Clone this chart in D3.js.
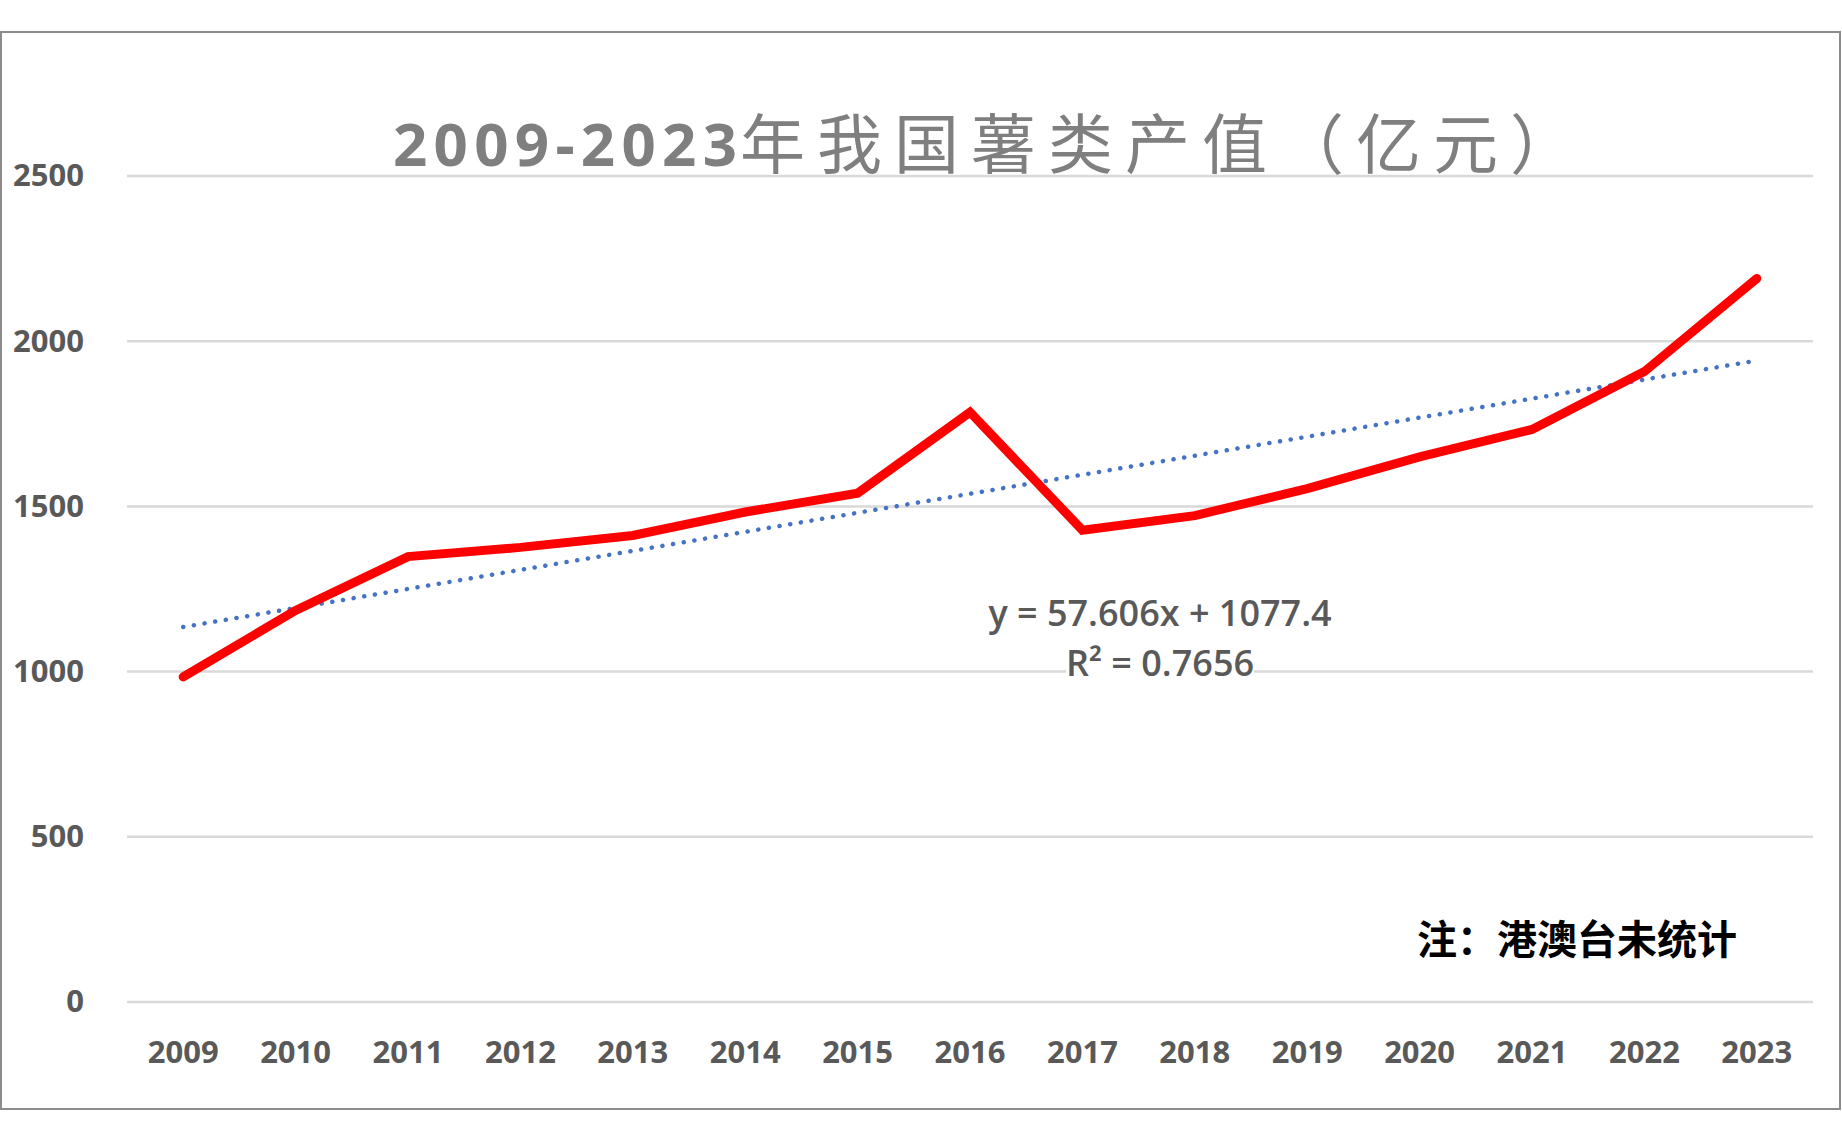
<!DOCTYPE html>
<html lang="zh">
<head>
<meta charset="UTF-8">
<title>2009-2023年我国薯类产值</title>
<script src="https://cdn.jsdelivr.net/npm/d3@7"></script>
<style>
  html, body { margin: 0; padding: 0; background: #fff; }
  svg { display: block; }
</style>
</head>
<body>
<script>
'use strict';

// 数据
var years = ['2009', '2010', '2011', '2012', '2013', '2014', '2015', '2016',
             '2017', '2018', '2019', '2020', '2021', '2022', '2023'];
var values = [984, 1185, 1348, 1376, 1412, 1483, 1540, 1785,
              1428, 1472, 1554, 1650, 1733, 1908, 2190];
var yTicks = [0, 500, 1000, 1500, 2000, 2500];
var trendSlope = 57.606,
    trendIntercept = 1077.4,
    trendR2 = 0.7656;

var w = 1842, h = 1141;
var padL = 127, padR = 1813, padT = 176, padB = 1002;
var numFont = '"Noto Sans", "DejaVu Sans", sans-serif';
var cjkFont = '"Noto Sans CJK SC", sans-serif';

var svg = d3.select('body').append('svg')
    .attr('width', w)
    .attr('height', h);

// 外框
svg.append('rect')
    .attr('x', 1).attr('y', 32)
    .attr('width', 1839).attr('height', 1077)
    .attr('fill', '#fff')
    .attr('stroke', '#8c8c8c')
    .attr('stroke-width', 2);

var xsc = d3.scaleBand()
    .domain(years)
    .range([padL, padR]);

var ysc = d3.scaleLinear()
    .domain([0, 2500])
    .range([padB, padT]);

var xmid = function(d) { return xsc(d) + xsc.bandwidth() / 2; };

// 网格线
svg.append('g')
    .selectAll('line')
    .data(yTicks)
    .enter()
    .append('line')
    .attr('x1', padL).attr('x2', padR)
    .attr('y1', d => ysc(d)).attr('y2', d => ysc(d))
    .attr('stroke', '#d9d9d9')
    .attr('stroke-width', 2.5);

// y 轴
var yAxis = svg.append('g')
    .attr('transform', 'translate(' + padL + ',0)')
    .call(d3.axisLeft(ysc).tickValues(yTicks).tickFormat(d3.format('d'))
        .tickSize(0).tickPadding(43));
yAxis.select('.domain').remove();
yAxis.selectAll('text')
    .style('font-family', numFont)
    .style('font-size', '31px')
    .style('font-weight', 'bold')
    .attr('fill', '#595959');

// x 轴
var xAxis = svg.append('g')
    .attr('transform', 'translate(0,' + padB + ')')
    .call(d3.axisBottom(xsc).tickSize(0).tickPadding(39));
xAxis.select('.domain').remove();
xAxis.selectAll('text')
    .style('font-family', numFont)
    .style('font-size', '31px')
    .style('font-weight', 'bold')
    .attr('fill', '#595959');

// 趋势线
var trend = years.map((d, i) => ({ year: d, v: trendIntercept + trendSlope * (i + 1) }));
svg.append('path')
    .datum([trend[0], trend[trend.length - 1]])
    .attr('fill', 'none')
    .attr('stroke', '#4472c4')
    .attr('stroke-width', 4.5)
    .attr('stroke-linecap', 'round')
    .attr('stroke-dasharray', '0.1 10.7')
    .attr('d', d3.line().x(d => xmid(d.year)).y(d => ysc(d.v)));

// 数据折线
svg.append('path')
    .datum(years.map((d, i) => ({ year: d, v: values[i] })))
    .attr('fill', 'none')
    .attr('stroke', '#ff0000')
    .attr('stroke-width', 9)
    .attr('stroke-linecap', 'round')
    .attr('stroke-linejoin', 'miter')
    .attr('d', d3.line().x(d => xmid(d.year)).y(d => ysc(d.v)));

// 公式标签
var eq = svg.append('g');
var r2 = eq.append('text')
    .attr('x', 1160).attr('y', 676)
    .attr('text-anchor', 'middle')
    .style('font-family', '"Open Sans", "Noto Sans", sans-serif')
    .style('font-size', '36px')
    .style('font-weight', 600)
    .attr('fill', '#595959')
    .text('R² = ' + trendR2);
var bb = r2.node().getBBox();
eq.insert('rect', 'text')
    .attr('x', bb.x).attr('y', bb.y + 6)
    .attr('width', bb.width).attr('height', bb.height - 10)
    .attr('fill', '#fff');
eq.append('text')
    .attr('x', 1160).attr('y', 626)
    .attr('text-anchor', 'middle')
    .style('font-family', '"Open Sans", "Noto Sans", sans-serif')
    .style('font-size', '36px')
    .style('font-weight', 600)
    .attr('fill', '#595959')
    .text('y = ' + trendSlope + 'x + ' + trendIntercept);

// 标题
svg.append('text')
    .attr('x', 393).attr('y', 166)
    .attr('textLength', 344)
    .attr('lengthAdjust', 'spacing')
    .style('font-family', numFont)
    .style('font-size', '60px')
    .style('font-weight', 'bold')
    .attr('fill', '#7f7f7f')
    .text('2009-2023');
svg.append('text')
    .attr('x', 740).attr('y', 168)
    .style('font-family', cjkFont)
    .style('font-size', '65px')
    .style('letter-spacing', '12px')
    .attr('fill', '#7f7f7f')
    .text('年我国薯类产值（亿元）');

// 注
svg.append('text')
    .attr('x', 1417).attr('y', 954)
    .style('font-family', cjkFont)
    .style('font-size', '40px')
    .style('font-weight', 'bold')
    .attr('fill', '#000')
    .text('注：港澳台未统计');
</script>
</body>
</html>
